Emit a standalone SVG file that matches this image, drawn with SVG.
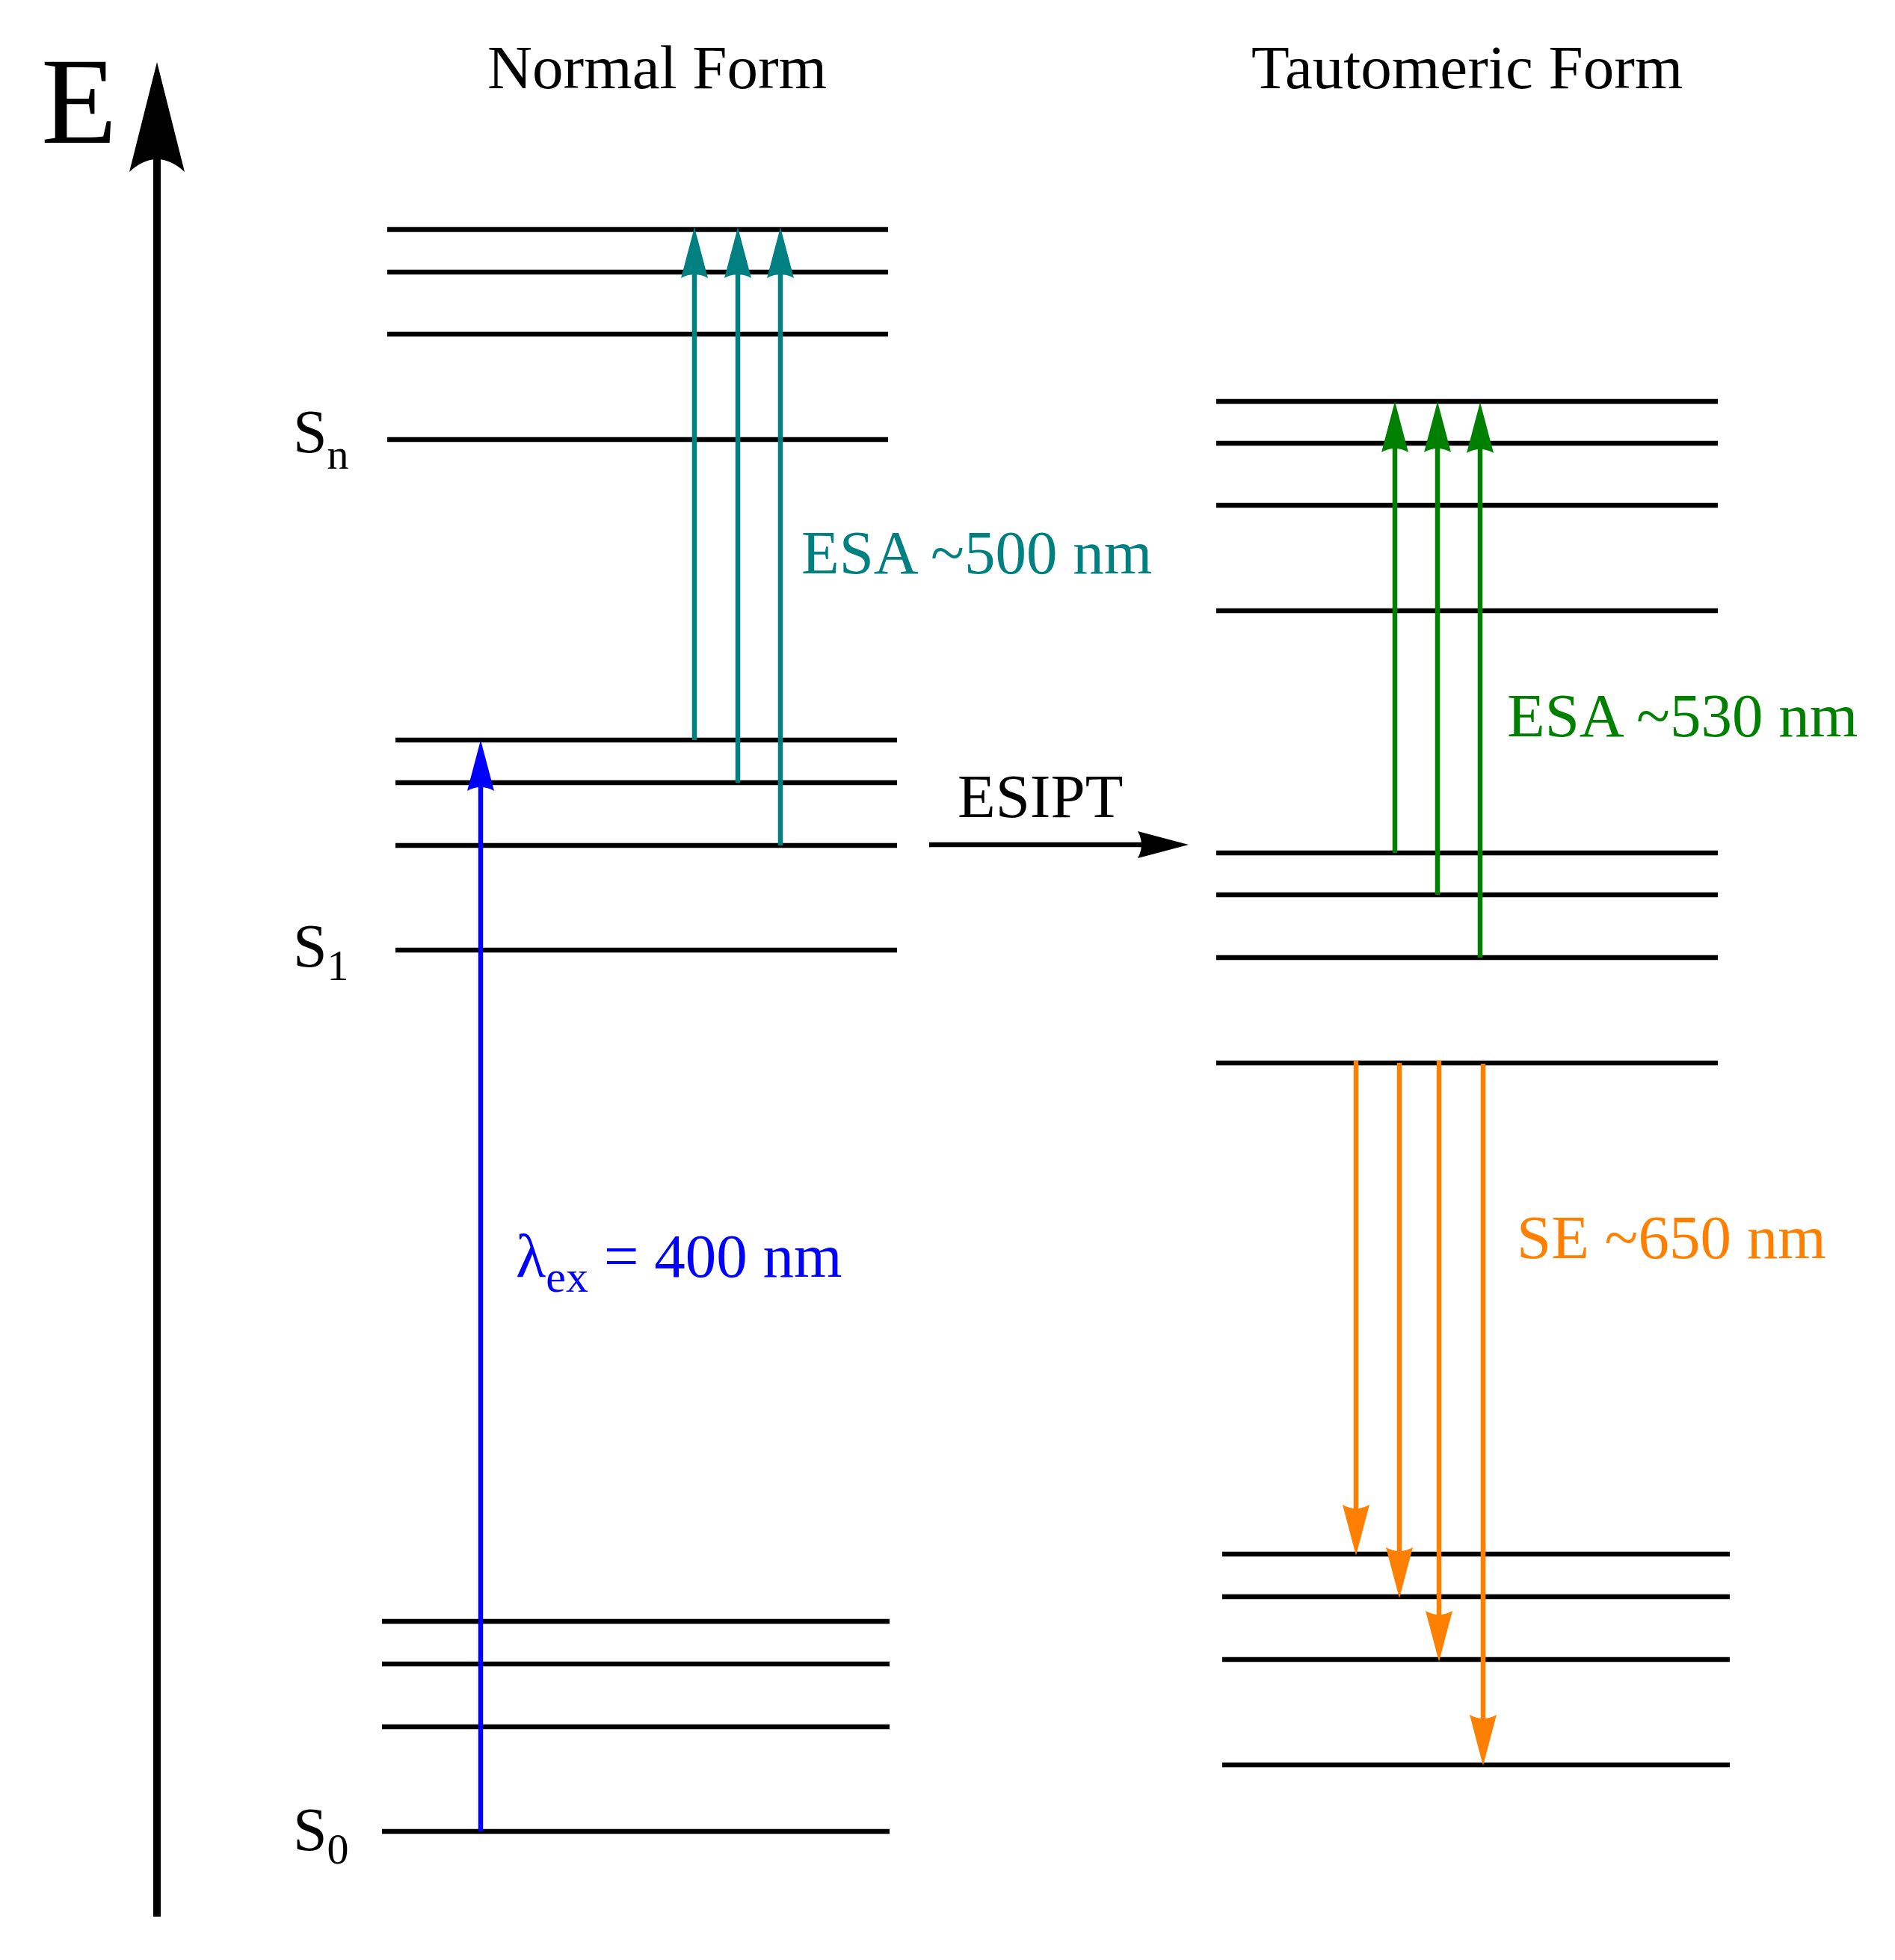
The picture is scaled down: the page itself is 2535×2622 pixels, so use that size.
<svg xmlns="http://www.w3.org/2000/svg" width="2535" height="2622" viewBox="0 0 2535 2622">
<style>
text{font-family:"Liberation Serif","Times New Roman",serif}
.t{font-size:83px}
.lvl{stroke:#000;stroke-width:6.5;fill:none}
.blk{stroke:#000;stroke-width:6.5;fill:none}
.teal{stroke:#008080;stroke-width:6.5;fill:none}
.green{stroke:#008000;stroke-width:6.5;fill:none}
.blue{stroke:#0000FF;stroke-width:6.5;fill:none}
.orange{stroke:#FF8000;stroke-width:6.5;fill:none}
</style>
<defs>
<marker id="mAxis" markerUnits="userSpaceOnUse" viewBox="0 -40 150 80" markerWidth="150" markerHeight="80" refX="20" refY="0" orient="auto"><path d="M147,0 L0,-37 Q34,0 0,37 Z" fill="#000"/></marker>
<marker id="mBlk" markerUnits="userSpaceOnUse" viewBox="0 -20 70 40" markerWidth="70" markerHeight="40" refX="8" refY="0" orient="auto"><path d="M68,0 L0,-18 Q10,0 0,18 Z" fill="#000"/></marker>
<marker id="mTeal" markerUnits="userSpaceOnUse" viewBox="0 -20 70 40" markerWidth="70" markerHeight="40" refX="8" refY="0" orient="auto"><path d="M68,0 L0,-18 Q10,0 0,18 Z" fill="#008080"/></marker>
<marker id="mGreen" markerUnits="userSpaceOnUse" viewBox="0 -20 70 40" markerWidth="70" markerHeight="40" refX="8" refY="0" orient="auto"><path d="M68,0 L0,-18 Q10,0 0,18 Z" fill="#008000"/></marker>
<marker id="mBlue" markerUnits="userSpaceOnUse" viewBox="0 -20 70 40" markerWidth="70" markerHeight="40" refX="8" refY="0" orient="auto"><path d="M68,0 L0,-18 Q10,0 0,18 Z" fill="#0000FF"/></marker>
<marker id="mOrange" markerUnits="userSpaceOnUse" viewBox="0 -20 70 40" markerWidth="70" markerHeight="40" refX="8" refY="0" orient="auto"><path d="M68,0 L0,-18 Q10,0 0,18 Z" fill="#FF8000"/></marker>
</defs>
<rect width="2535" height="2622" fill="#fff"/>

<g id="energy-axis">
<line x1="210" y1="2564" x2="210" y2="210" stroke="#000" stroke-width="10" marker-end="url(#mAxis)"/>
<text x="55" y="191" font-size="166">E</text>
</g>

<g id="titles">
<text class="t" x="652" y="118">Normal Form</text>
<text class="t" x="1674" y="118">Tautomeric Form</text>
</g>

<g id="normal-Sn">
<line class="lvl" x1="518" y1="307" x2="1188" y2="307"/>
<line class="lvl" x1="518" y1="364" x2="1188" y2="364"/>
<line class="lvl" x1="518" y1="447" x2="1188" y2="447"/>
<line class="lvl" x1="518" y1="588" x2="1188" y2="588"/>
<text x="392" y="605" font-size="82">S<tspan font-size="58" dy="22">n</tspan></text>
</g>

<g id="normal-S1">
<line class="lvl" x1="529" y1="990" x2="1200" y2="990"/>
<line class="lvl" x1="529" y1="1047" x2="1200" y2="1047"/>
<line class="lvl" x1="529" y1="1131" x2="1200" y2="1131"/>
<line class="lvl" x1="529" y1="1271" x2="1200" y2="1271"/>
<text x="392" y="1293" font-size="82">S<tspan font-size="58" dy="18">1</tspan></text>
</g>

<g id="normal-S0">
<line class="lvl" x1="511" y1="2169" x2="1190" y2="2169"/>
<line class="lvl" x1="511" y1="2226" x2="1190" y2="2226"/>
<line class="lvl" x1="511" y1="2310" x2="1190" y2="2310"/>
<line class="lvl" x1="511" y1="2450" x2="1190" y2="2450"/>
<text x="392" y="2475" font-size="82">S<tspan font-size="58" dy="18">0</tspan></text>
</g>

<g id="taut-Sn">
<line class="lvl" x1="1627" y1="537" x2="2298" y2="537"/>
<line class="lvl" x1="1627" y1="593" x2="2298" y2="593"/>
<line class="lvl" x1="1627" y1="676" x2="2298" y2="676"/>
<line class="lvl" x1="1627" y1="817" x2="2298" y2="817"/>
</g>

<g id="taut-S1">
<line class="lvl" x1="1627" y1="1141" x2="2298" y2="1141"/>
<line class="lvl" x1="1627" y1="1197" x2="2298" y2="1197"/>
<line class="lvl" x1="1627" y1="1281" x2="2298" y2="1281"/>
<line class="lvl" x1="1627" y1="1422" x2="2298" y2="1422"/>
</g>

<g id="taut-S0">
<line class="lvl" x1="1635" y1="2079" x2="2314" y2="2079"/>
<line class="lvl" x1="1635" y1="2136" x2="2314" y2="2136"/>
<line class="lvl" x1="1635" y1="2220" x2="2314" y2="2220"/>
<line class="lvl" x1="1635" y1="2361" x2="2314" y2="2361"/>
</g>

<g id="connectors">
<line class="blue" x1="643" y1="2450" x2="643" y2="1050" marker-end="url(#mBlue)"/>
<line class="teal" x1="929" y1="990" x2="929" y2="364" marker-end="url(#mTeal)"/>
<line class="teal" x1="987" y1="1047" x2="987" y2="364" marker-end="url(#mTeal)"/>
<line class="teal" x1="1044" y1="1131" x2="1044" y2="364" marker-end="url(#mTeal)"/>
<line class="blk" x1="1243" y1="1130" x2="1530" y2="1130" marker-end="url(#mBlk)"/>
<line class="green" x1="1866" y1="1141" x2="1866" y2="597" marker-end="url(#mGreen)"/>
<line class="green" x1="1923" y1="1197" x2="1923" y2="597" marker-end="url(#mGreen)"/>
<line class="green" x1="1980" y1="1281" x2="1980" y2="598" marker-end="url(#mGreen)"/>
<line class="orange" x1="1814" y1="1419" x2="1814" y2="2021" marker-end="url(#mOrange)"/>
<line class="orange" x1="1872" y1="1422" x2="1872" y2="2078" marker-end="url(#mOrange)"/>
<line class="orange" x1="1925" y1="1419" x2="1925" y2="2163" marker-end="url(#mOrange)"/>
<line class="orange" x1="1984" y1="1423" x2="1984" y2="2302" marker-end="url(#mOrange)"/>
</g>

<g id="labels">
<text class="t" x="690" y="1708" fill="#0000FF">λ<tspan font-size="60" dy="20">ex</tspan><tspan dy="-20"> = 400 nm</tspan></text>
<text class="t" x="1072" y="767" fill="#008080">ESA ~500 nm</text>
<text class="t" x="1281" y="1093">ESIPT</text>
<text class="t" x="2016" y="985" fill="#008000">ESA ~530 nm</text>
<text class="t" x="2029" y="1683" fill="#FF8000">SE ~650 nm</text>
</g>
</svg>
